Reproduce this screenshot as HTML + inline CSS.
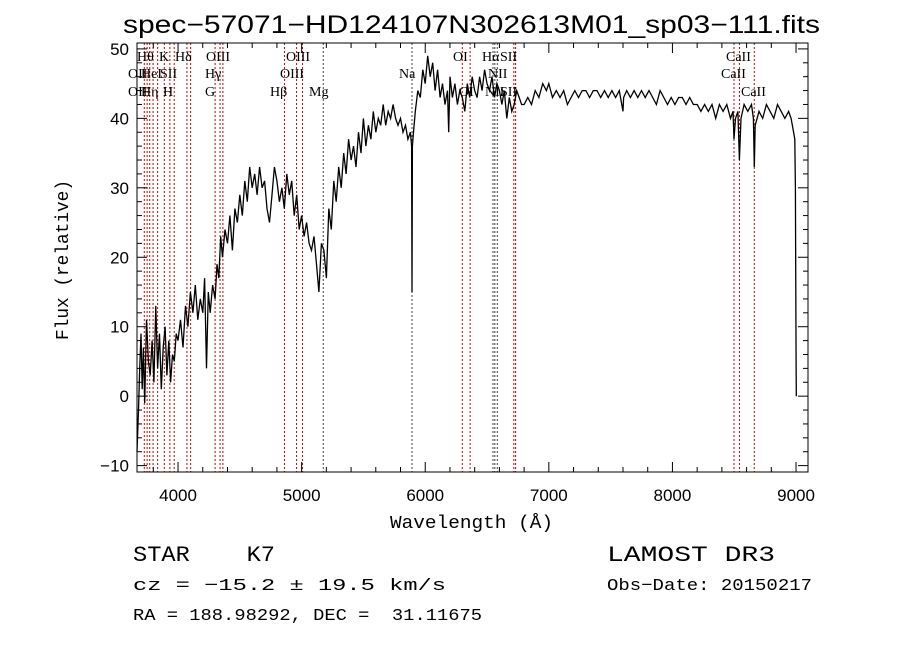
<!DOCTYPE html>
<html><head><meta charset="utf-8"><style>
body{margin:0;background:#fff;}
svg{display:block;}
text{font-family:"Liberation Sans",sans-serif;white-space:pre;}
.lab{font-family:"Liberation Serif",serif;font-size:14px;}
.mono{font-family:"Liberation Mono",monospace;}
</style></head><body>
<svg id="chart" width="900" height="649" viewBox="0 0 900 649" xmlns="http://www.w3.org/2000/svg">
<text x="123" y="33" font-size="25" textLength="697" lengthAdjust="spacingAndGlyphs">spec−57071−HD124107N302613M01_sp03−111.fits</text>
<g id="plot"></g>
<text x="390" y="528" font-size="18" textLength="163" lengthAdjust="spacingAndGlyphs" class="mono">Wavelength (Å)</text>
<text transform="translate(68,340) rotate(-90)" font-size="18" textLength="160" lengthAdjust="spacingAndGlyphs" class="mono">Flux (relative)</text>
<text x="133" y="561" font-size="22" textLength="142" lengthAdjust="spacingAndGlyphs" class="mono" xml:space="preserve">STAR    K7</text>
<text x="607" y="561" font-size="22" textLength="168" lengthAdjust="spacingAndGlyphs" class="mono">LAMOST DR3</text>
<text x="133" y="590" font-size="17" textLength="313" lengthAdjust="spacingAndGlyphs" class="mono">cz = −15.2 ± 19.5 km/s</text>
<text x="607" y="590" font-size="17" textLength="205" lengthAdjust="spacingAndGlyphs" class="mono">Obs−Date: 20150217</text>
<text x="133" y="620" font-size="17" textLength="349" lengthAdjust="spacingAndGlyphs" class="mono" xml:space="preserve">RA = 188.98292, DEC =  31.11675</text>
</svg>
<script>
const wave=[3668,3680,3690,3700,3710,3720,3730,3745,3760,3775,
3790,3805,3820,3835,3850,3865,3880,3895,3910,3925,
3940,3955,3970,3985,4000,4020,4040,4060,4080,4100,
4120,4140,4160,4180,4200,4215,4230,4245,4260,4280,
4300,4315,4330,4345,4360,4380,4400,4420,4440,4460,
4480,4500,4520,4540,4560,4580,4600,4620,4640,4660,
4680,4700,4720,4740,4760,4780,4800,4820,4840,4860,
4880,4900,4920,4940,4960,4980,5000,5020,5040,5060,
5080,5100,5120,5140,5160,5180,5200,5220,5240,5260,
5280,5300,5320,5340,5360,5380,5400,5420,5440,5460,
5480,5500,5520,5540,5560,5580,5600,5620,5640,5660,
5680,5700,5720,5740,5760,5780,5800,5820,5840,5860,
5880,5890,5893,5896,5905,5920,5940,5960,5980,6000,
6020,6040,6060,6080,6100,6120,6140,6160,6180,6190,
6200,6220,6240,6260,6280,6300,6320,6340,6360,6380,
6400,6420,6440,6460,6480,6500,6520,6540,6560,6580,
6600,6620,6640,6660,6680,6700,6720,6740,6760,6780,
6800,6830,6860,6890,6920,6950,6980,7000,7030,7060,
7090,7120,7150,7180,7210,7240,7270,7300,7330,7360,
7390,7420,7450,7480,7510,7540,7570,7600,7605,7630,
7660,7690,7720,7750,7780,7810,7840,7870,7900,7930,
7960,7990,8020,8050,8080,8110,8140,8170,8200,8230,
8260,8290,8320,8350,8380,8410,8440,8470,8490,8498,
8510,8530,8542,8555,8580,8610,8640,8655,8662,8670,
8700,8730,8760,8790,8820,8850,8880,8910,8940,8960,
8980,8990,8995,9000,9002];
const flux=[-8,-2,4,9,1,7,-1,11,5,3,
8,2,13,4,9,1,7,10,3,8,
2,6,5,9,8,11,7,13,10,15,
12,16,11,14,12,17,4,15,12,16,
14,19,17,23,20,24,22,26,21,27,
25,29,26,31,28,33,30,32,29,33,
30,31,27,25,29,33,31,28,30,27,
32,29,31,26,29,24,26,23,25,22,
21,23,19,15,22,21,17,27,24,31,
28,33,30,35,32,37,34,36,33,38,
35,40,36,39,37,41,38,40,39,42,
39,41,40,42,40,39,40,38,39,37,
38,36,15,36,38,41,44,43,47,45,
49,46,48,44,47,43,45,42,44,38,
46,43,45,42,44,43,41,45,43,46,
44,43,46,44,47,45,44,46,43,45,
44,42,44,40,43,41,42,44,43,42,
42,43,42,44,43,45,44,45,43,44,
43,44,42,43,44,43,44,44,43,44,
44,43,44,43,44,43,44,41,43,44,
43,44,43,44,43,44,43,42,44,43,
42,43,42,43,43,42,43,42,42,41,
42,41,42,40,42,41,42,40,41,37,
40,41,34,40,42,41,42,40,33,39,
41,40,42,41,40,42,41,40,41,40,
38,37,30,8,0];
const lineWaves=[3727,3750,3771,3798,3835,3889,3934,3969,4072,4102,4300,4340,4363,4861,4959,5007,5175,5893,6300,6363,6548,6563,6583,6717,6731,8498,8542,8662];
const lineBlack=[5175,5893,6548,6563,6583];
const xTicks=[4000,5000,6000,7000,8000,9000];
const yTicks=[-10,0,10,20,30,40,50];
const X0=137,X1=808,Y0=43,Y1=472;
const wmin=3668,wmax=3668+(X1-X0)/0.1236;
const fmin=-10.92,fmax=50.85;
function xs(w){return X0+(w-wmin)/(wmax-wmin)*(X1-X0);}
function ys(f){return Y1-(f-fmin)/(fmax-fmin)*(Y1-Y0);}
const NS='http://www.w3.org/2000/svg';
const g=document.getElementById('plot');
function mk(t,a){const e=document.createElementNS(NS,t);for(const k in a)e.setAttribute(k,a[k]);g.appendChild(e);return e;}
lineWaves.forEach(w=>{
 const l=mk('line',{x1:xs(w),x2:xs(w),y1:Y0,y2:Y1,stroke:lineBlack.includes(w)?'#444':'#c00','stroke-width':1,'stroke-dasharray':'2,2'});
 
 
});
let d='';wave.forEach((w,i)=>{d+=(i?'L':'M')+xs(w).toFixed(1)+','+ys(flux[i]).toFixed(1);});
const p=mk('path',{d:d,fill:'none',stroke:'#000','stroke-width':1.3});


const fr=mk('rect',{x:X0,y:Y0,width:X1-X0,height:Y1-Y0,fill:'none',stroke:'#000','stroke-width':1});


for(let w=3800;w<=9000;w+=200){const maj=w%1000===0,L=maj?10:5;
 mk('line',{x1:xs(w),x2:xs(w),y1:Y1,y2:Y1-L,stroke:'#000'});
 mk('line',{x1:xs(w),x2:xs(w),y1:Y0,y2:Y0+L,stroke:'#000'});}
xTicks.forEach(w=>{const t=mk('text',{x:xs(w),y:Y1+29,'font-size':17,'text-anchor':'middle'});t.textContent=w;
 
 });
for(let f=-10;f<=50;f+=2){const maj=f%10===0,L=maj?10:5;
 mk('line',{x1:X0,x2:X0+L,y1:ys(f),y2:ys(f),stroke:'#000'});
 mk('line',{x1:X1,x2:X1-L,y1:ys(f),y2:ys(f),stroke:'#000'});}
yTicks.forEach(f=>{const t=mk('text',{x:X0-8,y:ys(f)+6,'font-size':17,'text-anchor':'end'});t.textContent=f<0?'−'+(-f):f;
 
 });
const labs=[['Hθ',137,61],['K',159,61],['Hδ',175,61],['OIII',206,61],['OIII',286,61],['OI',453,61],['Hα',482,61],['SII',500,61],['CaII',726,61],
['OII',128,78],['HeI',141,78],['SII',160,78],['Hγ',205,78],['OIII',280,78],['Na',399,78],['NII',488,78],['CaII',721,78],
['OII',128,96],['Hη',141,96],['H',163,96],['G',205,96],['Hβ',270,96],['Mg',309,96],['OI',459,96],['NII',485,96],['SII',500,96],['CaII',741,96]];
labs.forEach(a=>{const t=mk('text',{x:a[1],y:a[2],class:'lab'});t.textContent=a[0];
 
 });
</script>
</body></html>
